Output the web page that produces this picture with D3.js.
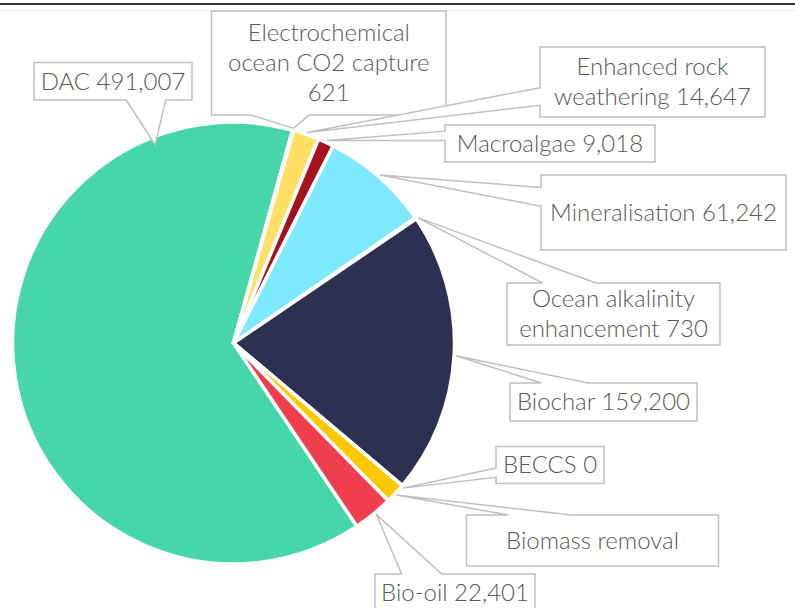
<!DOCTYPE html>
<html><head><meta charset="utf-8">
<script src="https://cdn.jsdelivr.net/npm/d3@7"></script>
<style>body{margin:0;background:#fff;overflow:hidden}</style>
</head><body><svg id="c" width="795" height="608"></svg>
<script>
// ---- data ----
const categories = ["DAC","Electrochemical ocean CO2 capture","Enhanced rock weathering","Macroalgae","Mineralisation","Ocean alkalinity enhancement","Biochar","BECCS","Biomass removal","Bio-oil"];
const values = [491007,621,14647,9018,61242,730,159200,0,11500,22401];
const labelLines = [["DAC 491,007"],["Electrochemical","ocean CO2 capture","621"],["Enhanced rock","weathering 14,647"],["Macroalgae 9,018"],["Mineralisation 61,242"],["Ocean alkalinity","enhancement 730"],["Biochar 159,200"],["BECCS 0"],["Biomass removal"],["Bio-oil 22,401"]];
const colors = ["#47D6AA","#5B8DEF","#FFDF64","#A5121E","#7EE8FD","#8C6BB1","#2E3052","#F28C28","#FFC800","#EF3E4E"];

// ---- layout (callout boxes: x, y, w, h ; tip: angle deg, radius offset) ----
const boxes = [[34,62.5,158,37.5],[211.5,11,234.5,104],[540,47,225,70],[445,125,210,37],[541,175,245,75],[507,283,213,62],[510,383,187,38],[496,446.5,108,37],[466.5,515,252,51],[375,574,160,38]];
const tips = [[-21.6,-8],[15.6,2],[19.3,2],[24.7,2],[41.1,2],[55.8,2],[93.3,2],[130.6,2],[133,2],[140.2,2]];

const W=795,H=608, cx=233.5, cy=343, R=221;
const svg=d3.select("#c");
svg.append("rect").attr("x",0).attr("y",3).attr("width",W).attr("height",2).attr("fill","#2E3052");
svg.append("line").attr("x1",0).attr("x2",W).attr("y1",10.5).attr("y2",10.5).attr("stroke","#ececec").attr("stroke-width",1);

const total=d3.sum(values);
const endDAC=15.5*Math.PI/180;
const start=endDAC - values[0]/total*2*Math.PI;
const pie=d3.pie().sort(null).value(d=>d).startAngle(start).endAngle(start+2*Math.PI);
const arcs=pie(values);
const arc=d3.arc().innerRadius(0).outerRadius(R);
const g=svg.append("g").attr("transform",`translate(${cx},${cy})`);
g.selectAll("path").data(arcs).join("path")
  .attr("d",arc).attr("fill",(d,i)=>colors[i])
  .attr("stroke","#fff").attr("stroke-width",3.5).attr("stroke-linejoin","round");

// callouts (Office wedgeRectCallout geometry)
function callout(b,tx,ty){
  const [l,t,w,h]=b, r=l+w, bt=t+h, hc=l+w/2, vc=t+h/2;
  const dx=tx-hc, dy=ty-vc;
  const vert=Math.abs(dy) > Math.abs(dx)*h/w;
  const x1=l+w*(dx>0?7:2)/12, x2=l+w*(dx>0?10:5)/12;
  const y1=t+h*(dy>0?7:2)/12, y2=t+h*(dy>0?10:5)/12;
  let p=`M${l},${t}`;
  if(vert && dy<0) p+=`L${x1},${t}L${tx},${ty}L${x2},${t}`;
  p+=`L${r},${t}`;
  if(!vert && dx>0) p+=`L${r},${y1}L${tx},${ty}L${r},${y2}`;
  p+=`L${r},${bt}`;
  if(vert && dy>0) p+=`L${x2},${bt}L${tx},${ty}L${x1},${bt}`;
  p+=`L${l},${bt}`;
  if(!vert && dx<0) p+=`L${l},${y2}L${tx},${ty}L${l},${y1}`;
  return p+"Z";
}
const lg=svg.append("g");
boxes.forEach((b,i)=>{
  const a=tips[i][0]*Math.PI/180, rr=R+tips[i][1];
  const tx=cx+rr*Math.sin(a), ty=cy-rr*Math.cos(a);
  lg.append("path").attr("d",callout(b,tx,ty)).attr("fill","#fff")
    .attr("stroke","#BFBFBF").attr("stroke-width",1.5).attr("stroke-linejoin","miter");
  const lines=labelLines[i], lh=30;
  const t=lg.append("text").attr("x",b[0]+b[2]/2).attr("text-anchor","middle")
    .attr("font-family","Lato, 'Open Sans', sans-serif").attr("font-weight",300)
    .attr("font-size",24).attr("fill","#595959");
  const y0=b[1]+b[3]/2-(lines.length-1)*lh/2;
  lines.forEach((s,k)=>t.append("tspan").attr("x",b[0]+b[2]/2).attr("y",y0+k*lh).attr("dy","0.35em").text(s));
});
</script></body></html>
